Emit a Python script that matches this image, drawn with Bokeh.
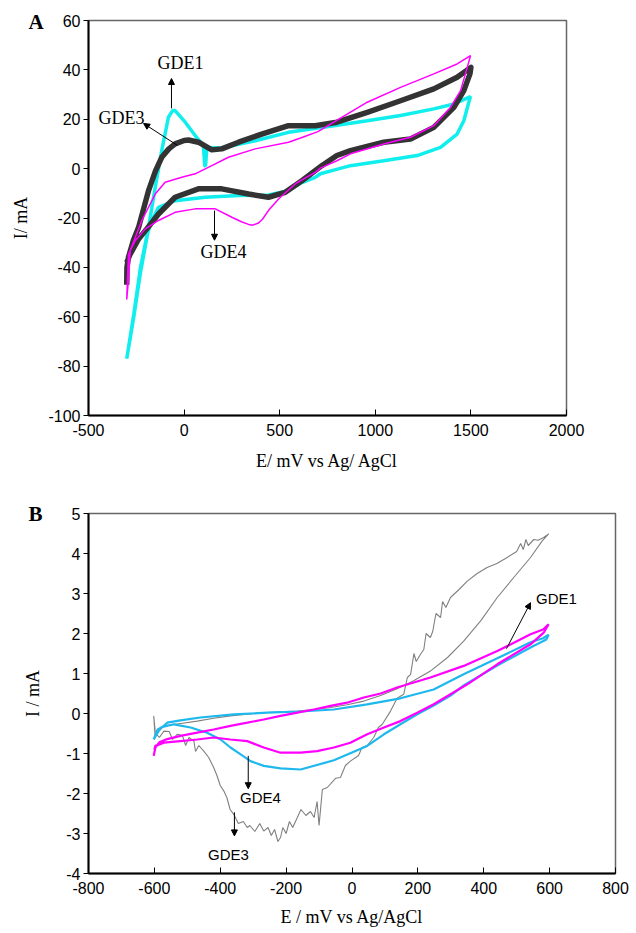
from bokeh.plotting import figure
from bokeh.layouts import column
from bokeh.models import Range1d, FixedTicker, Arrow, NormalHead, ColumnDataSource
from bokeh.core.properties import value
from bokeh.embed import file_html
from bokeh.resources import INLINE

# ---------------- Panel A data (E in mV, I in mA) ----------------
a_gde3_E = [-300, -299, -291, -265, -238, -186, -150, -117, -80, -47, 0, 23, 75, 145, 197, 285, 406, 546, 686, 799,
            958, 1132, 1306, 1428, 1489, 1500, 1495, 1463, 1411, 1306, 1184, 1044, 870, 799, 720, 616, 529, 441,
            337, 197, 75, -47, -134, -195, -238, -282, -300]
a_gde3_I = [-47, -40, -35.9, -29, -23.8, -8.9, -1, 4.6, 8, 10.0, 11.4, 11.6, 10.7, 7.6, 8.0, 10.7, 14.0, 17.4, 17.4, 18.8,
            22.8, 27.5, 32.3, 37, 40.4, 41, 38.4, 31.6, 24.8, 16.7, 12.0, 10.7, 7.3, 5.3, 1.2, -4.9, -9.6, -11.6,
            -10.3, -8.2, -8.2, -11.6, -18.4, -24.4, -28.5, -34.6, -38]

a_gde1_E = [-300, -263, -228, -186, -151, -117, -82, -60, -47, 6, 58, 101, 108, 112, 119, 197, 372, 546, 783, 958,
            1132, 1306, 1411, 1498, 1489, 1463, 1428, 1341, 1219, 1044, 870, 783, 713, 686, 609, 546, 441, 285, 110,
            -47, -134, -169, -190, -228, -263, -300]
a_gde1_I = [-77, -58.9, -40, -23.8, -7.6, 7.3, 20.8, 23.5, 23.5, 18.8, 13.4, 9.3, 1.2, 1.0, 8.6, 8.4, 11.3, 14.7, 17.4, 19.4,
            21.5, 24.2, 26.2, 29.2, 26.9, 19.4, 14.0, 8.6, 5.3, 3.2, 1.2, -0.6, -2.1, -3.5, -5.9, -8.9, -10.7, -10.9, -11.6,
            -13.0, -15.7, -21.1, -26, -42, -60, -77]

a_gde4_E = [-300, -291, -282, -221, -151, -99, -12, 58, 145, 232, 372, 546, 609, 700, 783, 958, 1132, 1306, 1428, 1498,
            1481, 1446, 1393, 1306, 1184, 1044, 870, 799, 713, 686, 609, 581, 494, 441, 410, 389, 360, 337, 300, 250, 163, 58, -47,
            -134, -203, -256, -291, -300]
a_gde4_I = [-53, -45, -33.2, -21, -10.3, -5.5, -3.5, -2.1, 1.2, 4.6, 8.0, 10.7, 12.4, 15.0, 18.8, 26.9, 32.9, 38.4, 42.4, 45.8,
            41, 31.6, 24.8, 17.4, 12.7, 10.0, 6.0, 3.2, 0.2, -1.5, -4.9, -6.2, -12.3, -17, -20.5, -22.0, -22.9, -22.6, -21.5, -19.7, -16.3, -16.3, -17.7,
            -21, -24.4, -29.2, -34.6, -53]

a_xticks = [-500, 0, 500, 1000, 1500, 2000]
a_xlabels = ["-500", "0", "500", "1000", "1500", "2000"]
a_yticks = [-100, -80, -60, -40, -20, 0, 20, 40, 60]
a_ylabels = ["-100", "-80", "-60", "-40", "-20", "0", "20", "40", "60"]

a_note_text = ["GDE1", "GDE3", "GDE4"]
a_note_x = [-19, -327, 206]
a_note_y = [42.6, 20.7, -33.8]
a_arrow_x0 = [-66, -35, 159]
a_arrow_y0 = [24.4, 9.4, -17]
a_arrow_x1 = [-66, -212, 159]
a_arrow_y1 = [36.5, 18.3, -29]

# ---------------- Panel B data ----------------
b_gde3_E = [-602, -598, -571, -520, -470, -420, -369, -318, -268, -217, -166, -116, -65, -15, 36, 87, 137, 187, 238, 290,
            339, 390, 441, 491, 542, 577, 597, 582, 565, 552, 535, 528, 520, 512, 500, 471, 440, 410, 380, 350, 325,
            299, 285, 275, 269, 255, 245, 238, 225, 218, 208, 195, 188, 178, 168, 157, 137, 117, 92, 80, 66, 46, 30,
            20, -5, -20, -35, -50, -75, -90, -100, -106, -115, -126, -140, -155, -166, -180, -190, -200, -210, -217,
            -225, -235, -245, -255, -268, -280, -295, -310, -318, -330, -345, -359, -370, -380, -389, -400, -410,
            -420, -435, -450, -465, -475, -480, -495, -505, -515, -531, -545, -555, -571, -585, -597, -602]
b_gde3_I = [-0.06, -0.55, -0.31, -0.25, -0.19, -0.12, -0.06, -0.02, 0.02, 0.04, 0.06, 0.1, 0.15, 0.22, 0.31, 0.45, 0.62, 0.82, 1.06, 1.4,
            1.81, 2.31, 2.9, 3.4, 3.9, 4.31, 4.49, 4.4, 4.33, 4.35, 4.2, 4.35, 4.1, 4.25, 4.05, 3.9, 3.75, 3.65, 3.5, 3.31, 3.1,
            2.9, 2.65, 2.8, 2.4, 2.5, 2.05, 1.9, 2.0, 1.6, 1.48, 1.3, 1.5, 0.98, 0.9, 0.48, 0.38, 0.06, -0.27, -0.35, -0.6, -0.8, -0.85,
            -1.05, -1.19, -1.3, -1.6, -1.62, -1.85, -1.9, -2.8, -2.2, -2.6, -2.45, -2.55, -2.4, -2.6, -2.85, -2.7, -3.0, -2.85, -3.1,
            -3.2, -2.9, -3.05, -2.85, -2.94, -2.75, -2.95, -2.8, -2.85, -2.7, -2.75, -2.52, -2.4, -2.1, -1.94, -1.8, -1.55,
            -1.35, -1.1, -0.94, -0.8, -0.95, -0.69, -0.6, -0.8, -0.55, -0.52, -0.65, -0.45, -0.44, -0.6, -0.48, -0.06]

b_gde4_E = [-602, -597, -585, -561, -521, -470, -420, -369, -318, -268, -217, -166, -116, -65, -15, 36, 87, 137, 238, 339,
            441, 542, 580, 597, 582, 542, 441, 350, 299, 248, 198, 147, 97, 46, -5, -55, -106, -156, -217, -268, -318,
            -369, -420, -470, -521, -571, -597, -600]
b_gde4_I = [-1.06, -0.85, -0.72, -0.64, -0.56, -0.48, -0.4, -0.31, -0.23, -0.15, -0.06, 0.02, 0.1, 0.19, 0.27, 0.4, 0.5, 0.65, 0.9, 1.19,
            1.56, 1.98, 2.1, 2.23, 2.02, 1.73, 1.23, 0.73, 0.48, 0.23, 0.02, -0.19, -0.35, -0.52, -0.73, -0.85, -0.94, -0.98, -0.98, -0.85, -0.69,
            -0.65, -0.6, -0.65, -0.69, -0.73, -0.81, -0.9]

b_gde1_E = [-602, -590, -571, -561, -521, -460, -359, -257, -156, -55, 46, 147, 248, 339, 441, 542, 580, 597, 590, 542,
            441, 339, 299, 248, 198, 147, 97, 46, -55, -156, -217, -268, -308, -338, -369, -399, -440, -490, -541, -581, -602]
b_gde1_I = [-0.65, -0.4, -0.31, -0.23, -0.17, -0.1, -0.02, 0.02, 0.05, 0.1, 0.23, 0.38, 0.6, 0.98, 1.38, 1.78, 1.88, 1.97, 1.85, 1.65,
            1.2, 0.7, 0.45, 0.2, -0.02, -0.27, -0.52, -0.81, -1.17, -1.4, -1.37, -1.31, -1.19, -1.02, -0.85, -0.65, -0.48, -0.35, -0.27, -0.35, -0.65]

b_xticks = [-800, -600, -400, -200, 0, 200, 400, 600, 800]
b_xlabels = ["-800", "-600", "-400", "-200", "0", "200", "400", "600", "800"]
b_yticks = [-4, -3, -2, -1, 0, 1, 2, 3, 4, 5]
b_ylabels = ["-4", "-3", "-2", "-1", "0", "1", "2", "3", "4", "5"]

b_note_text = ["GDE1", "GDE4", "GDE3"]
b_note_x = [621, -278, -375]
b_note_y = [2.87, -2.1, -3.53]
b_arrow_x0 = [469, -315, -357]
b_arrow_y0 = [1.62, -1.06, -2.47]
b_arrow_x1 = [542, -315, -357]
b_arrow_y1 = [2.77, -1.88, -3.06]

SANS = "Liberation Sans"
SERIF = "Liberation Serif"


def style(p, panel, xticks, xlabels, yticks, ylabels, xtitle, ytitle, x_title_standoff,
          y_title_standoff, title_standoff):
    p.grid.visible = False
    p.outline_line_color = "#666666"
    p.outline_line_width = 1.5
    p.background_fill_color = "white"
    p.border_fill_color = "white"
    p.title.text = panel
    p.title.align = "left"
    p.title.offset = -60
    p.title.vertical_align = "bottom"
    p.title.standoff = title_standoff
    p.title.text_font = SERIF
    p.title.text_font_style = "bold"
    p.title.text_font_size = "21px"
    p.title.text_color = "black"
    xa = p.xaxis[0]
    ya = p.yaxis[0]
    xa.ticker = FixedTicker(ticks=xticks)
    xa.major_label_overrides = {t: l for t, l in zip(xticks, xlabels)}
    ya.ticker = FixedTicker(ticks=yticks)
    ya.major_label_overrides = {t: l for t, l in zip(yticks, ylabels)}
    for ax in (xa, ya):
        ax.axis_line_color = "black"
        ax.axis_line_width = 2
        ax.major_tick_line_color = "black"
        ax.major_tick_line_width = 1
        ax.minor_tick_line_color = None
        ax.major_label_text_font = SANS
        ax.major_label_text_font_size = "16px"
        ax.major_label_text_color = "black"
        ax.axis_label_text_font = SERIF
        ax.axis_label_text_font_style = "normal"
        ax.axis_label_text_color = "black"
        ax.axis_label_text_font_size = "18px"
    xa.major_tick_in = 6
    xa.major_tick_out = 0
    xa.major_label_standoff = 8
    ya.major_tick_in = 0
    ya.major_tick_out = 5
    ya.major_label_standoff = 3
    xa.axis_label = xtitle
    ya.axis_label = ytitle
    xa.axis_label_standoff = x_title_standoff
    ya.axis_label_standoff = y_title_standoff


# ---------------- Panel A ----------------
pA = figure(frame_width=478, frame_height=395, output_backend="svg", toolbar_location=None,
            x_range=Range1d(-500, 2000), y_range=Range1d(-100, 60),
            min_border_left=88, min_border_right=70, min_border_top=20, min_border_bottom=62)
style(pA, "A", a_xticks, a_xlabels, a_yticks, a_ylabels, "E/ mV vs Ag/ AgCl", "I/ mA", 12, 14, -26)

pA.line(a_gde1_E, a_gde1_I, line_color="#10EEEE", line_width=3.5)
pA.line(a_gde3_E, a_gde3_I, line_color="#333333", line_width=5.5, line_join="round")
pA.line(a_gde4_E, a_gde4_I, line_color="#FF00FF", line_width=1.5)

srcA = ColumnDataSource(dict(x=a_note_x, y=a_note_y, t=a_note_text))
pA.text(x="x", y="y", text="t", source=srcA, text_font=value(SERIF), text_font_size="18px",
        text_align="center", text_baseline="middle", text_color="black")
for x0, y0, x1, y1 in zip(a_arrow_x0, a_arrow_y0, a_arrow_x1, a_arrow_y1):
    pA.add_layout(Arrow(end=NormalHead(size=6, fill_color="black", line_color="black"),
                        x_start=x0, y_start=y0, x_end=x1, y_end=y1, line_color="black", line_width=1))

# ---------------- Panel B ----------------
pB = figure(frame_width=527, frame_height=360, output_backend="svg", toolbar_location=None,
            x_range=Range1d(-800, 800), y_range=Range1d(-4, 5),
            min_border_left=88, min_border_right=21, min_border_top=36, min_border_bottom=60)
style(pB, "B", b_xticks, b_xlabels, b_yticks, b_ylabels, "E / mV vs Ag/AgCl", "I / mA", 10, 20, -25)

pB.line(b_gde3_E, b_gde3_I, line_color="#808080", line_width=1.1)
pB.line(b_gde1_E, b_gde1_I, line_color="#1EB8EE", line_width=2.2)
pB.line(b_gde4_E, b_gde4_I, line_color="#FF00FF", line_width=2.2)

srcB = ColumnDataSource(dict(x=b_note_x, y=b_note_y, t=b_note_text))
pB.text(x="x", y="y", text="t", source=srcB, text_font=value(SANS), text_font_size="15px",
        text_align="center", text_baseline="middle", text_color="black")
for x0, y0, x1, y1 in zip(b_arrow_x0, b_arrow_y0, b_arrow_x1, b_arrow_y1):
    pB.add_layout(Arrow(end=NormalHead(size=6, fill_color="black", line_color="black"),
                        x_start=x0, y_start=y0, x_end=x1, y_end=y1, line_color="black", line_width=1))

layout = column(pA, pB, spacing=0)
open("out.html", "w").write(file_html(layout, INLINE))
